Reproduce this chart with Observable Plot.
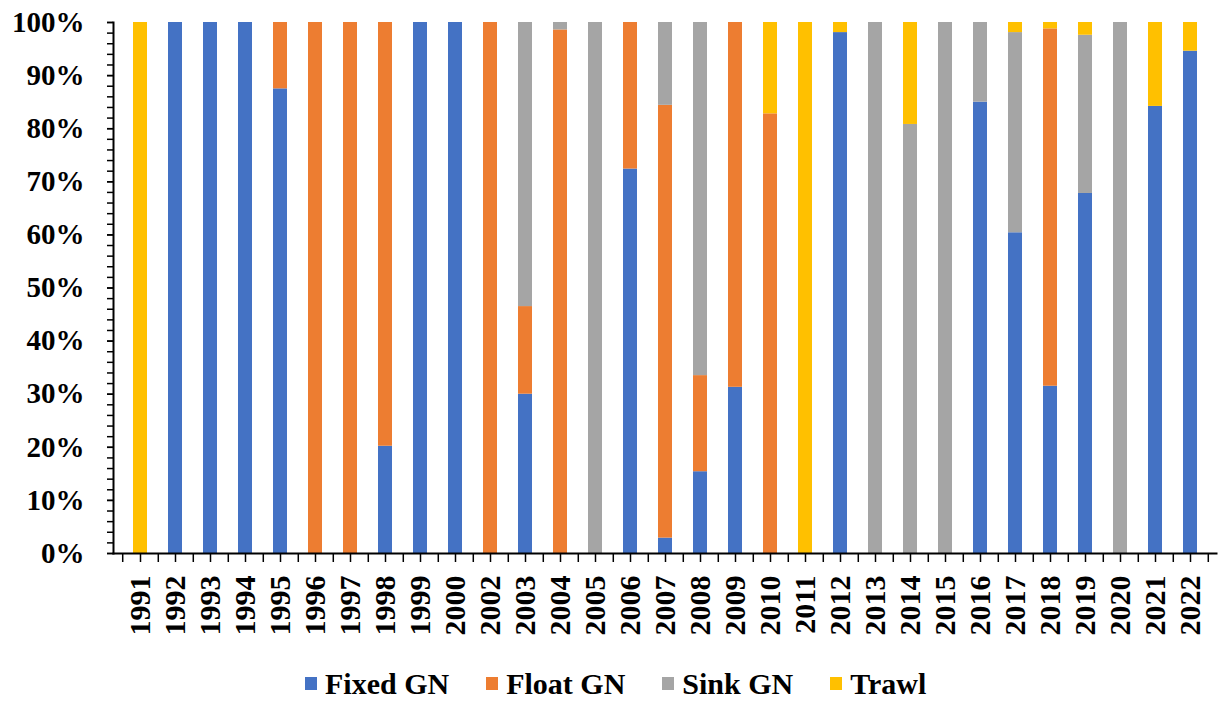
<!DOCTYPE html>
<html>
<head>
<meta charset="utf-8">
<script src="https://cdn.jsdelivr.net/npm/d3@7"></script>
<script src="https://cdn.jsdelivr.net/npm/@observablehq/plot@0.6"></script>
<style>
  html, body { margin: 0; padding: 0; background: #fff; }
  #chart svg { display: block; }
  .legend { display: flex; align-items: center; height: 44px; padding-left: 305px; padding-top: 3px; box-sizing: border-box;
    font-family: "Liberation Serif", "Times New Roman", serif; font-weight: bold; font-size: 30px; color: #000; }
  .legend .item { display: flex; align-items: center; margin-right: 37px; }
  .legend .sw { width: 12px; height: 13px; margin-right: 8px; }
</style>
</head>
<body>
<div id="chart"></div>
<div class="legend" id="legend"></div>
<script>
const years = ["1991","1992","1993","1994","1995","1996","1997","1998","1999","2000","2002","2003","2004","2005","2006","2007","2008","2009","2010","2011","2012","2013","2014","2015","2016","2017","2018","2019","2020","2021","2022"];
const seriesNames = ["Fixed GN", "Float GN", "Sink GN", "Trawl"];
const seriesColors = ["#4472C4", "#ED7D31", "#A5A5A5", "#FFC000"];
const fixedGN = [0,100,100,100,87.5,0,0,20.2,100,100,0,30,0,0,72.4,2.9,15.4,31.3,0,0,98.1,0,0,0,85,60.4,31.5,67.8,0,84.2,94.6];
const floatGN = [0,0,0,0,12.5,100,100,79.8,0,0,100,16.5,98.6,0,27.6,81.5,18.1,68.7,82.8,0,0,0,0,0,0,0,67.3,0,0,0,0];
const sinkGN  = [0,0,0,0,0,0,0,0,0,0,0,53.5,1.4,100,0,15.6,66.5,0,0,0,0,100,80.8,100,15,37.7,0,29.8,100,0,0];
const trawl   = [100,0,0,0,0,0,0,0,0,0,0,0,0,0,0,0,0,0,17.2,100,1.9,0,19.2,0,0,1.9,1.2,2.4,0,15.8,5.4];
const yMajorTicks = [0,10,20,30,40,50,60,70,80,90,100];
const yMinorTicks = d3.range(0, 101, 2);

const seriesValues = [fixedGN, floatGN, sinkGN, trawl];
const rows = [];
seriesNames.forEach((s, i) => years.forEach((y, j) => rows.push({year: y, series: s, value: seriesValues[i][j]})));

const W = 1222, H = 660, ML = 113, MR = 6, MT = 22, MB = 107;
const step = (W - ML - MR) / years.length;
const font = "'Liberation Serif', 'Times New Roman', serif";

const chart = Plot.plot({
  width: W, height: H,
  marginLeft: ML, marginRight: MR, marginTop: MT, marginBottom: MB,
  style: {fontFamily: font, fontWeight: "bold", fontSize: "29px", color: "#000", background: "#fff", overflow: "visible"},
  x: {domain: years, paddingInner: 0.6, paddingOuter: 0.3, axis: null},
  y: {domain: [0, 100], axis: null},
  color: {domain: seriesNames, range: seriesColors},
  marks: [
    Plot.barY(rows, {x: "year", y: "value", fill: "series", order: seriesNames}),
    Plot.axisY({ticks: yMinorTicks, tickSize: 6, tickFormat: () => "", label: null, stroke: "#000", strokeWidth: 1.5}),
    Plot.axisY({ticks: yMajorTicks, tickSize: 6, tickPadding: 23, tickFormat: d => d + "%", label: null,
      fontSize: 29, fontWeight: "bold", fill: "#000", stroke: "#000", strokeWidth: 1.5}),
    Plot.axisX({tickSize: 9, tickPadding: 13, tickRotate: -90, label: null,
      fontSize: 30, fontWeight: "bold", fill: "#000", stroke: "#000", strokeWidth: 1.5}),
    Plot.axisX({tickSize: 9, tickFormat: () => "", label: null, dx: step / 2, stroke: "#000", strokeWidth: 1.5}),
    Plot.axisX({ticks: [years[0]], tickSize: 9, tickFormat: () => "", label: null, dx: -step / 2, stroke: "#000", strokeWidth: 1.5}),
    Plot.frame({anchor: "left", stroke: "#000", strokeWidth: 2}),
    Plot.frame({anchor: "bottom", stroke: "#000", strokeWidth: 2})
  ]
});
document.getElementById("chart").appendChild(chart);

const legend = document.getElementById("legend");
seriesNames.forEach((s, i) => {
  const item = document.createElement("div");
  item.className = "item";
  const sw = document.createElement("span");
  sw.className = "sw";
  sw.style.background = seriesColors[i];
  const t = document.createElement("span");
  t.textContent = s;
  item.appendChild(sw); item.appendChild(t);
  legend.appendChild(item);
});
</script>
</body>
</html>
